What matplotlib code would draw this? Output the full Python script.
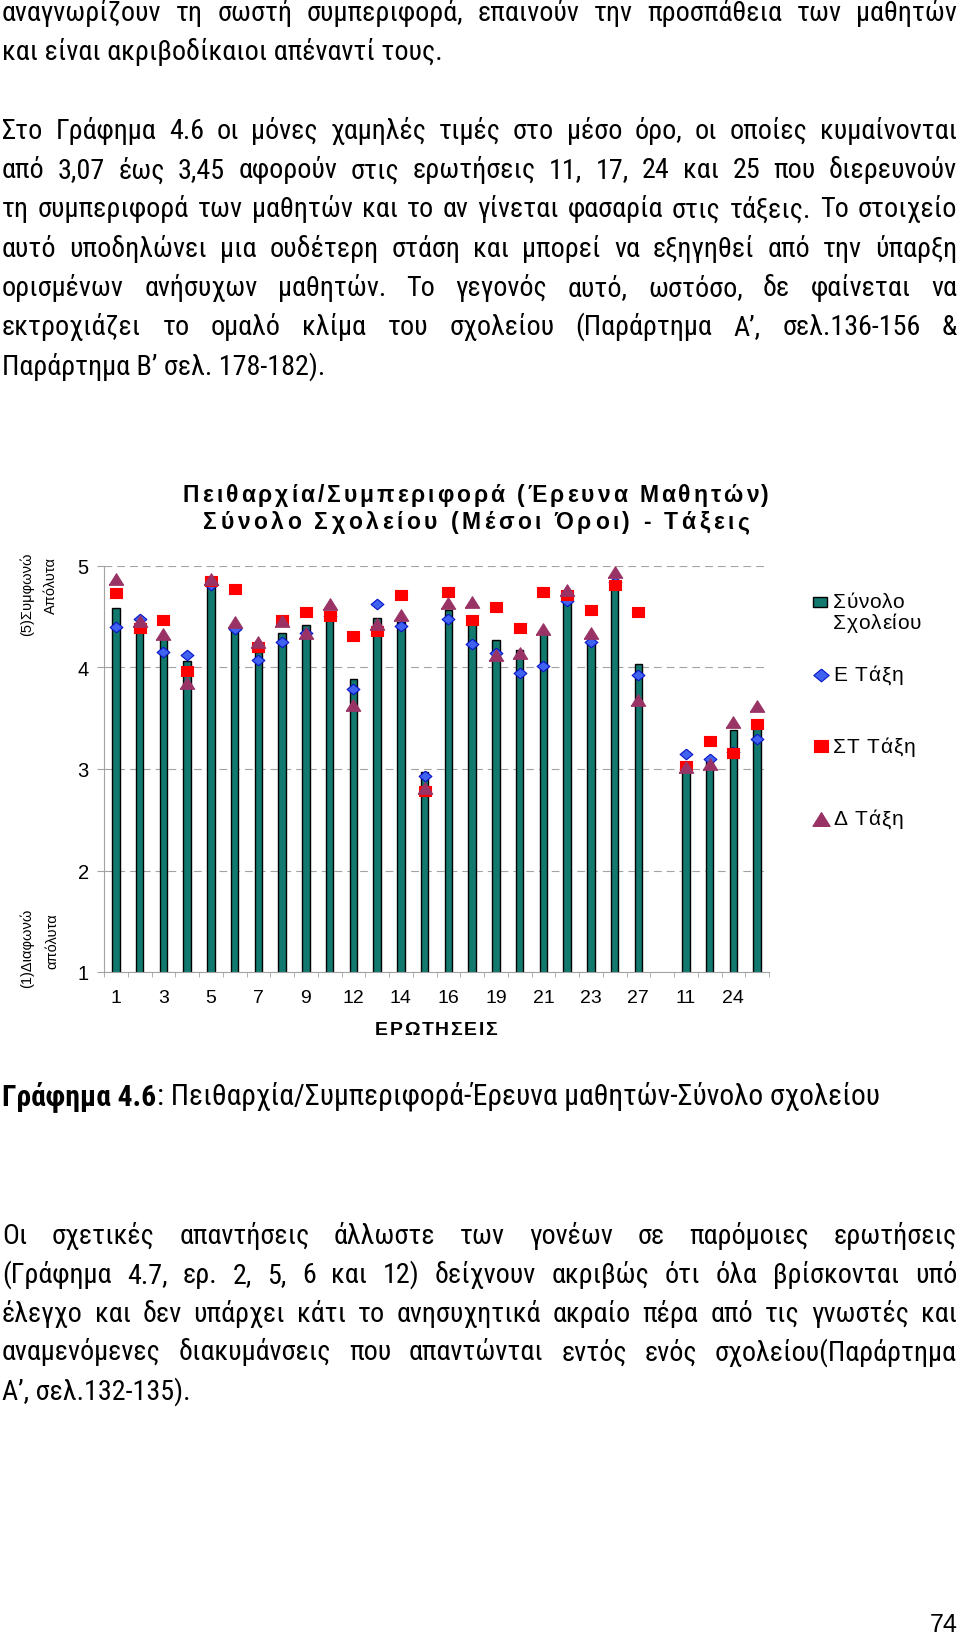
"""
Σελίδα 74 — Γράφημα 4.6: Πειθαρχία/Συμπεριφορά, έρευνα μαθητών, σύνολο σχολείου.
"""

import matplotlib
matplotlib.use("Agg")

import matplotlib.pyplot as plt
import numpy as np
from matplotlib import font_manager as fm
from matplotlib.ft2font import FT2Font
from matplotlib.lines import Line2D
from matplotlib.patches import Rectangle

W, H, DPI = 960, 1640, 100

CHART = "Liberation Sans"
plt.rcParams["font.family"] = [CHART, "DejaVu Sans"]


def narrow_font():
    names = {f.name for f in fm.fontManager.ttflist}
    for name in ("Liberation Sans Narrow", "Roboto Condensed", "Arial Narrow"):
        if name in names:
            return dict(family=name)
    for f in fm.fontManager.ttflist:
        if f.name in ("DejaVu Sans", "Noto Sans", "Open Sans") and f.stretch in ("condensed", "semi-condensed"):
            return dict(family=f.name, stretch=f.stretch)
    return dict(family=CHART)


BODY = narrow_font()

# --- δεδομένα γραφήματος (μέσοι όροι, κλίμακα 1-5) ---
erotiseis = ["1", "2", "3", "4", "5", "6", "7", "8", "9", "10", "12", "13", "14",
             "15", "16", "18", "19", "20", "21", "22", "23", "26", "27", "",
             "11", "17", "24", "25"]
synolo = [4.59, 4.43, 4.30, 4.06, 4.81, 4.40, 4.15, 4.34, 4.42, 4.49, 3.89, 4.49, 4.45,
          2.97, 4.57, 4.43, 4.27, 4.17, 4.35, 4.67, 4.26, 4.81, 4.03, np.nan,
          3.07, 3.08, 3.38, 3.45]
e_taxi = [4.40, 4.48, 4.15, 4.12, 4.81, 4.38, 4.07, 4.25, 4.34, 4.51, 3.79, 4.63, 4.41,
          2.93, 4.48, 4.23, 4.14, 3.95, 4.01, 4.66, 4.25, 4.84, 3.93, np.nan,
          3.15, 3.10, 3.17, 3.30]
st_taxi = [4.73, 4.39, 4.47, 3.97, 4.85, 4.77, 4.20, 4.47, 4.55, 4.51, 4.31, 4.36, 4.71,
           2.78, 4.74, 4.47, 4.60, 4.39, 4.74, 4.71, 4.57, 4.81, 4.55, np.nan,
           3.03, 3.28, 3.16, 3.44]
d_taxi = [4.87, 4.46, 4.33, 3.85, 4.87, 4.45, 4.25, 4.46, 4.34, 4.63, 3.63, 4.43, 4.52,
          2.81, 4.64, 4.65, 4.12, 4.14, 4.38, 4.76, 4.34, 4.94, 3.68, np.nan,
          3.02, 3.05, 3.46, 3.62]

TITLE = ["Πειθαρχία/Συμπεριφορά (Έρευνα Μαθητών)", "Σύνολο Σχολείου (Μέσοι Όροι) - Τάξεις"]
SERIES = ["Ε Τάξη", "ΣΤ Τάξη", "Δ Τάξη"]

# --- κείμενο σελίδας ---
para1 = ["αναγνωρίζουν τη σωστή συμπεριφορά, επαινούν την προσπάθεια των μαθητών",
         "και είναι ακριβοδίκαιοι απέναντί τους."]
para2 = ["Στο Γράφημα 4.6 οι μόνες χαμηλές τιμές στο μέσο όρο, οι οποίες κυμαίνονται",
         "από 3,07 έως 3,45 αφορούν στις ερωτήσεις 11, 17, 24 και 25 που διερευνούν",
         "τη συμπεριφορά των μαθητών και το αν γίνεται φασαρία στις τάξεις. Το στοιχείο",
         "αυτό υποδηλώνει μια ουδέτερη στάση και μπορεί να εξηγηθεί από την ύπαρξη",
         "ορισμένων ανήσυχων μαθητών. Το γεγονός αυτό, ωστόσο, δε φαίνεται να",
         "εκτροχιάζει το ομαλό κλίμα του σχολείου (Παράρτημα Α’, σελ.136-156 &",
         "Παράρτημα Β’ σελ. 178-182)."]
para3 = ["Οι σχετικές απαντήσεις άλλωστε των γονέων σε παρόμοιες ερωτήσεις",
         "(Γράφημα 4.7, ερ. 2, 5, 6 και 12) δείχνουν ακριβώς ότι όλα βρίσκονται υπό",
         "έλεγχο και δεν υπάρχει κάτι το ανησυχητικά ακραίο πέρα από τις γνωστές και",
         "αναμενόμενες διακυμάνσεις που απαντώνται εντός ενός σχολείου(Παράρτημα",
         "Α’, σελ.132-135)."]
CAPTION = ("Γράφημα 4.6", ": Πειθαρχία/Συμπεριφορά-Έρευνα μαθητών-Σύνολο σχολείου")

TEAL = "#12796e"
GRAY = "#a3a3a3"
BLUE, BLUE_EDGE = "#3f63f0", "#0a14c8"
RED = "#ff0000"
PLUM = "#993366"

# σχήματα δεικτών (ελαφρώς πεπλατυσμένα, όπως στο πρωτότυπο)
DIAMOND = [(0, 0.83), (1, 0), (0, -0.83), (-1, 0), (0, 0.83)]
SQUARE = [(-1, -0.82), (1, -0.82), (1, 0.82), (-1, 0.82), (-1, -0.82)]
TRIANGLE = [(-1, -0.8), (1, -0.8), (0, 0.8), (-1, -0.8)]

fig = plt.figure(figsize=(W / DPI, H / DPI), dpi=DPI)
rend = fig.canvas.get_renderer()


def fy(y):
    return (H - y) / H


def text_width(s, size, **kw):
    t = fig.text(0, 0, s, size=size, **kw)
    w = t.get_window_extent(rend).width
    t.remove()
    return w


# μέγεθος κειμένου: η τελευταία γραμμή της 1ης παραγράφου πιάνει ~439px,
# χωρίς να ξεχειλίζουν οι πλήρεις γραμμές
full_lines = para1[:-1] + para2[:-1] + para3[:-1]
BODY_SIZE = min(10 * 439 / text_width(para1[-1], 10, **BODY),
                10 * 945 / max(text_width(s, 10, **BODY) for s in full_lines))


def justify(line, base, x0=2, x1=957, **kw):
    texts = [fig.text(0, fy(base), w, va="baseline", **kw) for w in line.split()]
    widths = [t.get_window_extent(rend).width for t in texts]
    gap = (x1 - x0 - sum(widths)) / max(len(texts) - 1, 1)
    x = x0
    for t, w in zip(texts, widths):
        t.set_x(x / W)
        x += w + gap


def paragraph(lines, y0, step):
    kw = dict(size=BODY_SIZE, **BODY)
    for i, line in enumerate(lines):
        base = y0 + i * step + 8
        if i < len(lines) - 1:
            justify(line, base, **kw)
        else:
            fig.text(2 / W, fy(base), line, va="baseline", **kw)


def tracked(s, x, base, width, size, weight="normal", center=False):
    prop = fm.FontProperties(family=CHART, weight=weight, size=size)
    ft = FT2Font(fm.findfont(prop))
    ft.set_size(size, DPI)
    adv = [ft.load_char(ord(c)).linearHoriAdvance / 65536 for c in s]
    track = (width - sum(adv)) / (len(s) - 1)
    if center:
        x -= width / 2
    for c, a in zip(s, adv):
        if c != " ":
            fig.text(x / W, fy(base), c, fontproperties=prop, va="baseline")
        x += a + track


# --- κείμενο ---
paragraph(para1, 13, 39.2)
paragraph(para2, 131, 39.2)
paragraph(para3, 1236, 38.8)

cap = fig.text(2 / W, fy(1105), CAPTION[0], weight="bold", size=BODY_SIZE * 1.05,
               va="baseline", **BODY)
wb = cap.get_window_extent(rend).width
fig.text((2 + wb + 1) / W, fy(1105), CAPTION[1], size=BODY_SIZE * 1.05, va="baseline", **BODY)

fig.text(958 / W, fy(1632), "74", ha="right", va="baseline", family=CHART, size=18)

# --- γράφημα ---
x = np.arange(1, len(erotiseis) + 1)
ax = fig.add_axes([104 / W, fy(973), 665 / W, 406 / H])
ax.bar(x, synolo, width=0.32, color=TEAL, edgecolor="black", linewidth=1.0, zorder=2)
styles = [(DIAMOND, 9.2, BLUE, BLUE_EDGE), (SQUARE, 8.4, RED, RED), (TRIANGLE, 10.4, PLUM, PLUM)]
for vals, (mk, ms, fc, ec) in zip([e_taxi, st_taxi, d_taxi], styles):
    ax.plot(x, vals, ls="none", marker=mk, ms=ms, mfc=fc, mec=ec, mew=0.8,
            zorder=3, clip_on=False)

ax.set_xlim(0.5, len(x) + 0.5)
ax.set_ylim(1, 5)
ax.set_yticks([1, 2, 3, 4, 5])
ax.set_xticks(x[::2], labels=erotiseis[::2])
ax.set_xticks(np.arange(0.5, len(x) + 1), minor=True)
ax.tick_params(axis="x", which="major", length=0, pad=12, labelsize=14)
ax.tick_params(axis="x", which="minor", length=3.5, color=GRAY)
ax.tick_params(axis="y", length=5, pad=6, color=GRAY, labelsize=14.5)
ax.yaxis.grid(True, color=GRAY, lw=0.8, ls=(0, (7, 4.5)))
ax.set_axisbelow(True)
for s in ("top", "right"):
    ax.spines[s].set_visible(False)
for s in ("left", "bottom"):
    ax.spines[s].set_color(GRAY)

tracked(TITLE[0], 476, 502, 586, 16.5, weight="bold", center=True)
tracked(TITLE[1], 476, 529, 546, 16.5, weight="bold", center=True)
tracked("ΕΡΩΤΗΣΕΙΣ", 436, 1035, 122, 14, weight="bold", center=True)

ylab = dict(rotation=90, ha="center", va="top", family=CHART, size=10.5)
fig.text(27 / W, fy(553), "(5)Συμφωνώ", **ylab)
fig.text(51 / W, fy(557), "Απόλυτα", **ylab)
fig.text(27 / W, fy(909), "(1)Διαφωνώ", **ylab)
fig.text(52 / W, fy(913), "απόλυτα", **ylab)

# --- υπόμνημα ---
fig.add_artist(Rectangle((813 / W, fy(607.5)), 14 / W, 10 / H, transform=fig.transFigure,
                         facecolor=TEAL, edgecolor="black", lw=1.0))
tracked("Σύνολο", 833, 608, 71, 15)
tracked("Σχολείου", 833, 629, 88, 15)
for (mk, ms, fc, ec), y, label, wl in zip(styles, [675.5, 747, 819.5], SERIES, [70, 82, 70]):
    fig.add_artist(Line2D([820.5 / W], [fy(y)], transform=fig.transFigure, ls="none",
                          marker=mk, ms=ms * 1.2, mfc=fc, mec=ec, mew=0.8))
    tracked(label, 833, y + 6, wl, 15)

fig.savefig("out.png", dpi=DPI, facecolor="white")
